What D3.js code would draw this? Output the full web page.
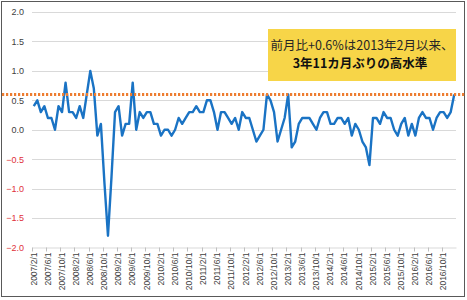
<!DOCTYPE html>
<html><head><meta charset="utf-8">
<script src="https://cdn.jsdelivr.net/npm/d3@7"></script>
<style>
html,body{margin:0;padding:0;background:#fff;}
svg{display:block;}
</style>
</head><body>
<svg id="c" width="467" height="300"></svg>
<script>
// ---- data ----
const startYear = 2007, startMonth = 2; // first category: 2007/2/1
const values = [
 0.4, 0.5, 0.3, 0.4, 0.2, 0.2, 0.0, 0.4, 0.3, 0.8, 0.3, 0.3,   // 2007/2 - 2008/1
 0.2, 0.4, 0.2, 0.6, 1.0, 0.7, -0.1, 0.1, -0.9, -1.8, -0.8, 0.3, // 2008/2 - 2009/1
 0.4, -0.1, 0.1, 0.1, 0.8, 0.0, 0.3, 0.2, 0.3, 0.3, 0.1, 0.1,   // 2009/2 - 2010/1
 -0.1, 0.0, 0.0, -0.1, 0.0, 0.2, 0.1, 0.2, 0.3, 0.3, 0.4, 0.3,  // 2010/2 - 2011/1
 0.3, 0.5, 0.5, 0.3, 0.0, 0.3, 0.3, 0.2, 0.1, 0.2, 0.0, 0.3,    // 2011/2 - 2012/1
 0.2, 0.2, 0.0, -0.2, -0.1, 0.0, 0.6, 0.5, 0.3, -0.2, 0.0, 0.2, // 2012/2 - 2013/1
 0.6, -0.3, -0.2, 0.1, 0.2, 0.2, 0.2, 0.1, 0.0, 0.2, 0.3, 0.3,  // 2013/2 - 2014/1
 0.1, 0.1, 0.2, 0.2, 0.1, 0.2, -0.1, 0.1, 0.0, -0.2, -0.3, -0.6,// 2014/2 - 2015/1
 0.2, 0.2, 0.1, 0.3, 0.2, 0.2, 0.0, -0.1, 0.1, 0.2, -0.1, 0.1,  // 2015/2 - 2016/1
 -0.1, 0.2, 0.3, 0.2, 0.2, 0.0, 0.2, 0.3, 0.3, 0.2, 0.3, 0.6    // 2016/2 - 2017/1
];
const yTicks = [2.0, 1.5, 1.0, 0.5, 0.0, -0.5, -1.0, -1.5, -2.0];
const refLevel = 0.6;
const tickLabels = ["2007/2/1","2007/6/1","2007/10/1","2008/2/1","2008/6/1","2008/10/1",
 "2009/2/1","2009/6/1","2009/10/1","2010/2/1","2010/6/1","2010/10/1",
 "2011/2/1","2011/6/1","2011/10/1","2012/2/1","2012/6/1","2012/10/1",
 "2013/2/1","2013/6/1","2013/10/1","2014/2/1","2014/6/1","2014/10/1",
 "2015/2/1","2015/6/1","2015/10/1","2016/2/1","2016/6/1","2016/10/1"];
const noteLines = ["前月比+0.6%は2013年2月以来、", "3年11カ月ぶりの高水準"];

// categories (one per month)
const categories = values.map((v, i) => {
  const m0 = startMonth - 1 + i;
  return (startYear + Math.floor(m0 / 12)) + "/" + (m0 % 12 + 1) + "/1";
});

// ---- drawing ----
const svg = d3.select("#c");
const L = 32, R = 456, T = 12, B = 247.5;

const x = d3.scaleBand().domain(categories).range([L, R]).padding(0);
const y = d3.scaleLinear().domain([-2, 2]).range([B, T]);
const cx = c => x(c) + x.bandwidth() / 2;

// outer border
svg.append("rect").attr("x", 1.5).attr("y", 1.5).attr("width", 463).attr("height", 295)
  .attr("fill", "#fff").attr("stroke", "#595959").attr("stroke-width", 1);

// gridlines
svg.append("g").selectAll("line").data(yTicks.filter(d => d !== -2)).join("line")
  .attr("x1", L).attr("x2", R)
  .attr("y1", d => Math.round(y(d)) + 0.5).attr("y2", d => Math.round(y(d)) + 0.5)
  .attr("stroke", "#d9d9d9").attr("stroke-width", 1);

// y axis labels
const yAxis = d3.axisLeft(y).tickValues(yTicks).tickSize(0).tickPadding(0)
  .tickFormat(d3.format(".1f"));
const gy = svg.append("g").attr("transform", `translate(${L - 8},0)`).call(yAxis);
gy.select(".domain").remove();
gy.selectAll("text")
  .attr("font-family", "Liberation Sans, Arial, sans-serif").attr("font-size", 9)
  .attr("fill", d => d < 0 ? "#e0303a" : "#404040");

// x axis
const xAxis = d3.axisBottom(x).tickValues(tickLabels).tickSize(0).tickPadding(0);
const gx = svg.append("g").attr("transform", `translate(0,${B})`).call(xAxis);
gx.select(".domain").attr("stroke", "#d9d9d9");
gx.selectAll("text")
  .attr("font-family", "Liberation Sans, Arial, sans-serif").attr("font-size", 8.5)
  .attr("fill", "#404040")
  .attr("text-anchor", "end")
  .attr("dy", "0.32em")
  .attr("transform", "translate(0,5) rotate(-90)")
  .attr("x", 0).attr("y", 0);
// tick marks at group boundaries
svg.append("g").selectAll("line").data(tickLabels).join("line")
  .attr("x1", d => Math.round(x(d)) + 0.5).attr("x2", d => Math.round(x(d)) + 0.5)
  .attr("y1", B).attr("y2", B + 4)
  .attr("stroke", "#bfbfbf").attr("stroke-width", 1);

// series line
const line = d3.line().x((d, i) => cx(categories[i])).y(d => y(d));
svg.append("path").datum(values).attr("d", line)
  .attr("fill", "none").attr("stroke", "#1a73c4").attr("stroke-width", 2.4)
  .attr("stroke-linejoin", "round");

// reference dotted line
svg.append("line").attr("x1", 2).attr("x2", 465)
  .attr("y1", y(refLevel)).attr("y2", y(refLevel))
  .attr("stroke", "#ed7d31").attr("stroke-width", 3)
  .attr("stroke-dasharray", "2.2,1.8");

// annotation box
const bx = 268, by = 29, bw = 188, bh = 52;
svg.append("rect").attr("x", bx).attr("y", by).attr("width", bw).attr("height", bh)
  .attr("fill", "#f7d548");
svg.append("text").attr("x", bx + bw / 2).attr("y", by + 21)
  .attr("text-anchor", "middle")
  .attr("font-family", "Noto Sans CJK JP, sans-serif").attr("font-size", 12.5)
  .attr("fill", "#262626").text(noteLines[0]);
svg.append("text").attr("x", bx + bw / 2 - 2).attr("y", by + 39)
  .attr("text-anchor", "middle")
  .attr("font-family", "Noto Sans CJK JP, sans-serif").attr("font-size", 12.5)
  .attr("font-weight", "bold")
  .attr("fill", "#111").text(noteLines[1]);
</script>
</body></html>
